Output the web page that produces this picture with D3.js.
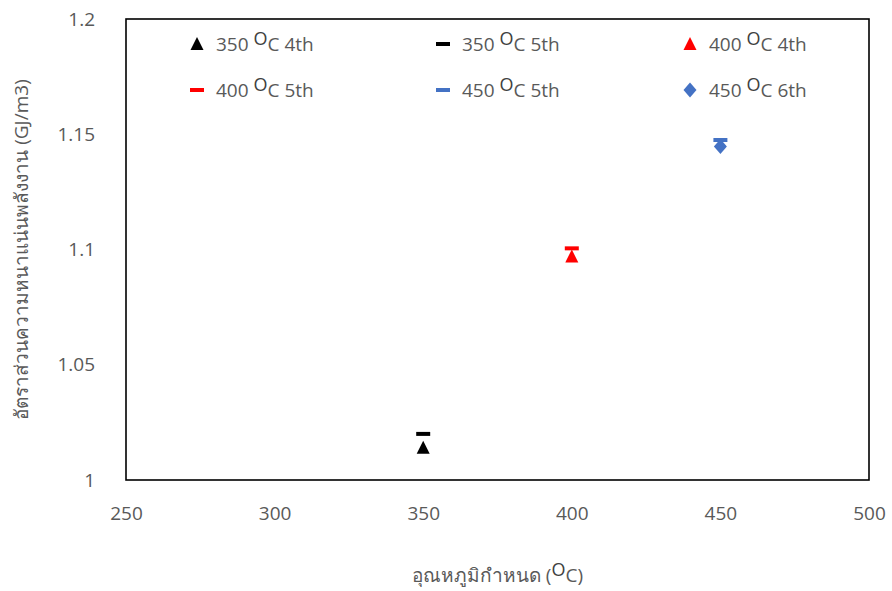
<!DOCTYPE html>
<html>
<head>
<meta charset="utf-8">
<script src="https://cdn.jsdelivr.net/npm/d3@7/dist/d3.min.js"></script>
<style>
  body { margin: 0; background: #fff; }
  text { font-family: "Open Sans", "Noto Sans", sans-serif; }
</style>
</head>
<body>
<svg id="chart" width="892" height="591"></svg>
<script>
// Temperature (°C) of each point and its energy density value (GJ/m3)
const seriesNames = ["350 4th", "350 5th", "400 4th", "400 5th", "450 5th", "450 6th"];
const seriesTemps = [350, 350, 400, 400, 450, 450];
const seriesLabelTemp = ["350", "350", "400", "400", "450", "450"];
const seriesLabelRun = ["4th", "5th", "4th", "5th", "5th", "6th"];
const seriesValues = [1.014, 1.020, 1.097, 1.1005, 1.1475, 1.1447];
const seriesColors = ["#000000", "#000000", "#ff0000", "#ff0000", "#4472c4", "#4472c4"];
const seriesShapes = ["triangle", "dash", "triangle", "dash", "dash", "diamond"];

const xTicks = [250, 300, 350, 400, 450, 500];
const yTicks = [1, 1.05, 1.1, 1.15, 1.2];
const yTickLabels = ["1", "1.05", "1.1", "1.15", "1.2"];

const svg = d3.select("#chart");
const margin = { left: 126, right: 23, top: 19, bottom: 111 };
const W = 892, H = 591;

const x = d3.scaleLinear().domain([250, 500]).range([margin.left, W - margin.right]);
const y = d3.scaleLinear().domain([1, 1.2]).range([H - margin.bottom, margin.top]);

const grey = "#595959";

// plot frame
svg.append("rect")
  .attr("x", x(250)).attr("y", y(1.2))
  .attr("width", x(500) - x(250)).attr("height", y(1) - y(1.2))
  .attr("fill", "none").attr("stroke", "#000").attr("stroke-width", 1.6);

// axes (labels only, no tick marks)
const xAxis = d3.axisBottom(x).tickValues(xTicks).tickSize(0).tickPadding(0).tickFormat(d3.format("d"));
svg.append("g").attr("transform", `translate(0, ${y(1) + 33})`).call(xAxis)
  .call(g => g.select(".domain").remove())
  .selectAll("text").attr("font-size", 19).attr("fill", grey).attr("dy", "0.35em")
  .style("font-family", "Open Sans, sans-serif");

const yAxis = d3.axisLeft(y).tickValues(yTicks).tickSize(0).tickPadding(0)
  .tickFormat((d, i) => yTickLabels[i]);
svg.append("g").attr("transform", `translate(${x(250) - 31}, 0)`).call(yAxis)
  .call(g => g.select(".domain").remove())
  .selectAll("text").attr("font-size", 19).attr("fill", grey)
  .style("font-family", "Open Sans, sans-serif");

// symbol path generators
function shapePath(shape) {
  if (shape === "triangle") return "M0,-7 L6.5,6 L-6.5,6 Z";
  if (shape === "dash") return "M-7,-2 L7,-2 L7,2 L-7,2 Z";
  return "M0,-7.5 L6.5,0 L0,7.5 L-6.5,0 Z";
}

// data points
svg.append("g").selectAll("path")
  .data(seriesValues)
  .join("path")
  .attr("d", (d, i) => shapePath(seriesShapes[i]))
  .attr("transform", (d, i) => `translate(${x(seriesTemps[i])}, ${y(d)})`)
  .attr("fill", (d, i) => seriesColors[i]);

// legend: 3 columns x 2 rows
const legendX = [197, 443, 690];
const legendY = [44, 90];
const leg = svg.append("g");
seriesNames.forEach((name, i) => {
  const cx = legendX[i % 3], cy = legendY[Math.floor(i / 3)];
  const g = leg.append("g").attr("transform", `translate(${cx}, ${cy})`);
  g.append("path").attr("d", shapePath(seriesShapes[i])).attr("fill", seriesColors[i]);
  const t = g.append("text").attr("x", 19).attr("y", 7).attr("font-size", 19).attr("fill", grey);
  t.append("tspan").text(seriesLabelTemp[i] + " ");
  t.append("tspan").attr("dy", -6).attr("font-size", 18).attr("fill", "#404040").text("O");
  t.append("tspan").attr("dy", 6).text("C " + seriesLabelRun[i]);
});

// axis titles
const xt = svg.append("text").attr("x", (x(250) + x(500)) / 2).attr("y", 582)
  .attr("text-anchor", "middle").attr("font-size", 19).attr("fill", grey);
xt.append("tspan").text("อุณหภูมิกำหนด (");
xt.append("tspan").attr("dy", -6).attr("font-size", 18).attr("fill", "#404040").text("O");
xt.append("tspan").attr("dy", 6).text("C)");

svg.append("text")
  .attr("transform", `translate(28, ${(y(1) + y(1.2)) / 2}) rotate(-90)`)
  .attr("text-anchor", "middle").attr("font-size", 19).attr("fill", grey)
  .text("อัตราส่วนความหนาแน่นพลังงาน (GJ/m3)");
</script>
</body>
</html>
